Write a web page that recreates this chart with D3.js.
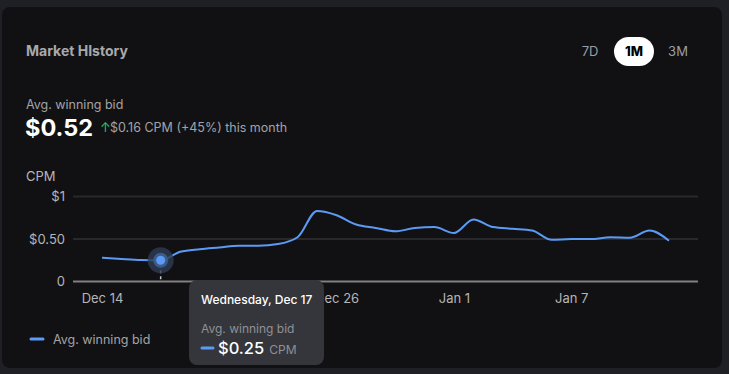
<!DOCTYPE html>
<html>
<head>
<meta charset="utf-8">
<script src="https://cdn.jsdelivr.net/npm/d3@7"></script>
<style>
  body { margin: 0; background: #1f2026; }
  svg text { font-family: Inter, "Noto Sans", sans-serif; }
</style>
</head>
<body>
<div id="viz"></div>
<script>
// data
var startDay = '2025-12-14';
var cpmValues = [0.28, 0.265, 0.253, 0.25, 0.35, 0.38, 0.40, 0.42, 0.42, 0.44,
  0.52, 0.83, 0.78, 0.67, 0.63, 0.59, 0.63, 0.64, 0.57, 0.73,
  0.64, 0.62, 0.60, 0.49, 0.50, 0.50, 0.52, 0.515, 0.60, 0.48];
var yTicks = [0, 0.5, 1];
var yTickLabels = ['0', '$0.50', '$1'];
var rangeButtons = ['7D', '1M', '3M'];
var hoverIndex = 3;

var width = 729, height = 374;
var blue = '#5b9bf6';
var heavyFont = '"DejaVu Sans", Inter, sans-serif';

var parseDay = d3.utcParse('%Y-%m-%d');
var day0 = parseDay(startDay);
var data = cpmValues.map(function (v, i) {
  return { date: d3.utcDay.offset(day0, i), value: v };
});

var svg = d3.select('#viz').append('svg')
  .attr('width', width).attr('height', height);

// card
svg.append('rect')
  .attr('x', 2).attr('y', 7).attr('width', 720).attr('height', 361)
  .attr('rx', 8).attr('fill', '#111113');

// header
svg.append('text').attr('x', 26).attr('y', 56)
  .attr('font-family', heavyFont)
  .attr('font-size', 14).attr('font-weight', 700).attr('fill', '#a9a9ad')
  .text('Market HIstory');

var btnX = [590, 634, 678];
rangeButtons.forEach(function (b, i) {
  if (b == '1M') {
    svg.append('rect').attr('x', 614).attr('y', 37).attr('width', 40).attr('height', 29)
      .attr('rx', 14.5).attr('fill', '#ffffff');
  }
  svg.append('text').attr('x', btnX[i]).attr('y', 56).attr('text-anchor', 'middle')
    .attr('font-size', 13).attr('font-weight', b == '1M' ? 800 : 400)
    .attr('fill', b == '1M' ? '#000' : '#9a9ea6')
    .text(b);
});

svg.append('text').attr('x', 26).attr('y', 109)
  .attr('font-size', 12.5).attr('fill', '#a3a3a8').text('Avg. winning bid');
svg.append('text').attr('x', 25).attr('y', 136)
  .attr('font-family', heavyFont)
  .attr('font-size', 23.5).attr('font-weight', 700).attr('fill', '#ffffff').text('$0.52');
svg.append('text').attr('x', 100).attr('y', 132)
  .attr('font-size', 13).attr('fill', '#22c55e').text('↑');
svg.append('text').attr('x', 110).attr('y', 132)
  .attr('font-size', 12.5).attr('fill', '#a3a3a8').text('$0.16 CPM (+45%) this month');

svg.append('text').attr('x', 26).attr('y', 181)
  .attr('font-size', 13).attr('fill', '#b5b5ba').text('CPM');

// scales
var x = d3.scaleUtc()
  .domain([data[0].date, data[data.length - 1].date])
  .range([102, 669]);
var y = d3.scaleLinear().domain([0, 1]).range([281.5, 196.5]);

var plotLeft = 73, plotRight = 698;

// grid
svg.append('g').selectAll('line')
  .data(yTicks.filter(function (t) { return t > 0; }))
  .enter().append('line')
  .attr('x1', plotLeft).attr('x2', plotRight)
  .attr('y1', function (d) { return y(d); }).attr('y2', function (d) { return y(d); })
  .attr('stroke', '#28282d').attr('stroke-width', 2);

svg.append('line')
  .attr('x1', plotLeft).attr('x2', plotRight)
  .attr('y1', y(0)).attr('y2', y(0))
  .attr('stroke', '#808084').attr('stroke-width', 2);

// y axis labels
var yAxis = d3.axisLeft(y).tickValues(yTicks)
  .tickSize(0).tickPadding(0)
  .tickFormat(function (d, i) { return yTickLabels[i]; });
var gy = svg.append('g').attr('transform', 'translate(65,0)').call(yAxis);
gy.select('.domain').remove();
gy.selectAll('text').attr('font-size', 13).attr('fill', '#b5b5ba')
  .attr('font-family', 'Inter, "Noto Sans", sans-serif');

// x axis labels (Dec 20 sits under the tooltip, as in the reference)
var xTickVals = d3.range(0, 30, 6).map(function (i) { return d3.utcDay.offset(day0, i); });
var xAxis = d3.axisBottom(x).tickValues(xTickVals)
  .tickSize(0).tickPadding(0)
  .tickFormat(d3.utcFormat('%b %-d'));
var gx = svg.append('g').attr('transform', 'translate(0,294)').call(xAxis);
gx.select('.domain').remove();
gx.selectAll('text').attr('font-size', 13).attr('fill', '#b5b5ba')
  .attr('font-family', 'Inter, "Noto Sans", sans-serif');

// line
var line = d3.line()
  .x(function (d) { return x(d.date); })
  .y(function (d) { return y(d.value); })
  .curve(d3.curveMonotoneX);

svg.append('path').datum(data)
  .attr('d', line)
  .attr('fill', 'none').attr('stroke', blue).attr('stroke-width', 2);

// hover marker
var hp = data[hoverIndex];
var hx = x(hp.date), hy = y(hp.value);
svg.append('line')
  .attr('x1', hx).attr('x2', hx).attr('y1', hy + 4).attr('y2', y(0))
  .attr('stroke', '#c8c8cc').attr('stroke-width', 1.5).attr('stroke-dasharray', '3,3');
svg.append('circle').attr('cx', hx).attr('cy', hy).attr('r', 13)
  .attr('fill', '#2e3c56').attr('fill-opacity', 0.8);
svg.append('circle').attr('cx', hx).attr('cy', hy).attr('r', 7.5)
  .attr('fill', '#3d5a88');
svg.append('circle').attr('cx', hx).attr('cy', hy).attr('r', 4.5)
  .attr('fill', blue);

// legend
svg.append('line').attr('x1', 31).attr('x2', 43).attr('y1', 339).attr('y2', 339)
  .attr('stroke', blue).attr('stroke-width', 3).attr('stroke-linecap', 'round');
svg.append('text').attr('x', 53).attr('y', 343.5)
  .attr('font-size', 12.5).attr('fill', '#a3a3a8').text('Avg. winning bid');

// tooltip
var tip = svg.append('g').attr('transform', 'translate(189,280)');
tip.append('rect').attr('width', 135).attr('height', 85).attr('rx', 8)
  .attr('fill', '#34363c');
tip.append('text').attr('x', 12).attr('y', 24)
  .attr('font-size', 12).attr('font-weight', 500).attr('fill', '#ffffff')
  .text('Wednesday, ' + d3.utcFormat('%b %-d')(hp.date));
tip.append('text').attr('x', 12).attr('y', 53)
  .attr('font-size', 12).attr('fill', '#8f9197').text('Avg. winning bid');
tip.append('line').attr('x1', 13).attr('x2', 24).attr('y1', 68).attr('y2', 68)
  .attr('stroke', blue).attr('stroke-width', 3).attr('stroke-linecap', 'round');
var vt = tip.append('text').attr('x', 29).attr('y', 74);
vt.append('tspan').attr('font-size', 16.5).attr('font-weight', 500).attr('fill', '#ffffff')
  .text('$' + hp.value.toFixed(2));
vt.append('tspan').attr('dx', 5).attr('font-size', 12).attr('fill', '#8f9197').text('CPM');
</script>
</body>
</html>
